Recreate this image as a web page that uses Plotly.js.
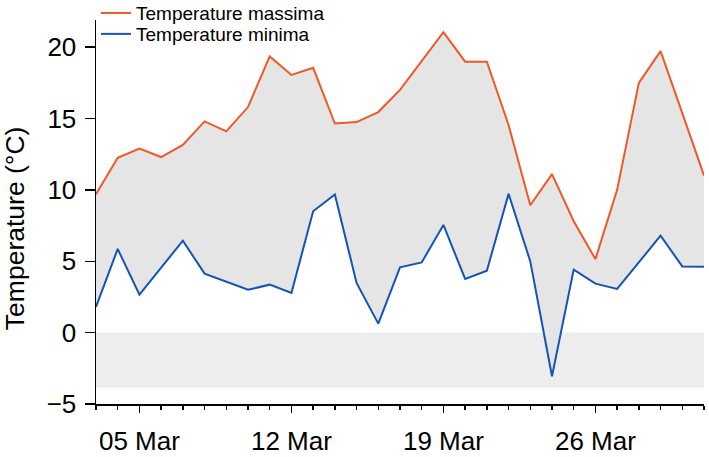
<!DOCTYPE html>
<html>
<head>
<meta charset="utf-8">
<script src="https://cdn.plot.ly/plotly-3.0.1.min.js"></script>
<style>html,body{margin:0;padding:0;background:#fff;}#chart{width:709px;height:457px;}</style>
</head>
<body>
<div id="chart"></div>
<script>
var dates = ["2023-03-03","2023-03-04","2023-03-05","2023-03-06","2023-03-07","2023-03-08","2023-03-09","2023-03-10","2023-03-11","2023-03-12","2023-03-13","2023-03-14","2023-03-15","2023-03-16","2023-03-17","2023-03-18","2023-03-19","2023-03-20","2023-03-21","2023-03-22","2023-03-23","2023-03-24","2023-03-25","2023-03-26","2023-03-27","2023-03-28","2023-03-29","2023-03-30","2023-03-31"];
var tmax = [9.7,12.25,12.9,12.3,13.15,14.8,14.1,15.8,19.35,18.05,18.55,14.65,14.75,15.45,17.0,19.0,21.05,18.98,18.98,14.55,8.92,11.1,7.8,5.15,10.0,17.5,19.72,15.38,11.0];
var tmin = [1.8,5.86,2.66,4.55,6.44,4.13,3.55,3.0,3.36,2.78,8.5,9.68,3.48,0.63,4.57,4.92,7.54,3.76,4.34,9.72,4.99,-3.06,4.41,3.43,3.06,4.92,6.79,4.64,4.62];
var yTicks = [-5, 0, 5, 10, 15, 20];
var bandLow = -3.87;
var bandHigh = 0;

var orange = "rgb(240,88,38)";
var blue = "rgb(20,84,178)";

var traces = [
  {x: dates, y: tmin, type: "scatter", mode: "lines", line: {width: 0, color: blue}, showlegend: false, hoverinfo: "skip"},
  {x: dates, y: tmax, type: "scatter", mode: "lines", line: {width: 0, color: orange}, fill: "tonexty", fillcolor: "rgb(229,229,229)", showlegend: false, hoverinfo: "skip"},
  {x: dates, y: tmax, type: "scatter", mode: "lines", name: "Temperature massima", line: {width: 2, color: orange}, legend: "legend"},
  {x: dates, y: tmin, type: "scatter", mode: "lines", name: "Temperature minima", line: {width: 2, color: blue}, legend: "legend2"}
];

var legFont = {size: 19, family: "Liberation Sans, Arial, sans-serif", color: "#000"};

var layout = {
  width: 709, height: 457,
  margin: {l: 96, r: 5, t: 20, b: 53, autoexpand: false},
  paper_bgcolor: "#fff", plot_bgcolor: "#fff",
  font: {family: "Liberation Sans, Arial, sans-serif", color: "#000", size: 26},
  showlegend: true,
  legend: {x: 0.0, y: 1.018, xanchor: "left", yanchor: "middle", bgcolor: "rgba(0,0,0,0)", font: legFont},
  legend2: {x: 0.0, y: 0.9635, xanchor: "left", yanchor: "middle", bgcolor: "rgba(0,0,0,0)", font: legFont},
  xaxis: {
    type: "date",
    range: ["2023-03-03", "2023-03-31"],
    tick0: "2023-03-05", dtick: 7*86400000, tickformat: "%d %b",
    ticks: "outside", ticklen: 7, tickcolor: "#000", tickwidth: 1.5,
    showline: true, linecolor: "#000", linewidth: 1.5,
    showgrid: false, zeroline: false, automargin: false,
    ticklabelstandoff: 6,
    tickfont: {size: 26},
    minor: {dtick: 86400000, ticks: "outside", ticklen: 4, tickcolor: "#000", tickwidth: 1.5, showgrid: false}
  },
  yaxis: {
    range: [-5, 21.9],
    tickvals: yTicks,
    ticks: "outside", ticklen: 10, tickcolor: "#000", tickwidth: 1.5,
    showline: true, linecolor: "#000", linewidth: 1.5,
    showgrid: false, zeroline: false, automargin: false,
    ticklabelstandoff: 3,
    tickfont: {size: 26}
  },
  annotations: [
    {text: "Temperature (°C)", textangle: -90, xref: "paper", yref: "paper", x: -0.1332, y: 0.458, xanchor: "center", yanchor: "middle", showarrow: false, font: {size: 26.5}}
  ],
  shapes: [
    {type: "rect", xref: "x", yref: "y", x0: dates[0], x1: dates[dates.length-1], y0: bandLow, y1: bandHigh, fillcolor: "rgb(237,237,237)", line: {width: 0}, layer: "below"}
  ]
};

Plotly.newPlot("chart", traces, layout, {displayModeBar: false, staticPlot: true});
</script>
</body>
</html>
